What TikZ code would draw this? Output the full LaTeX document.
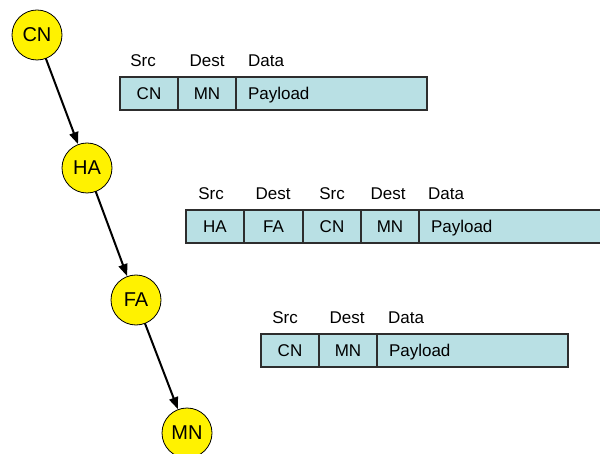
\documentclass[tikz,border=0pt]{standalone}
\usepackage{fontspec}
\setmainfont{Liberation Sans}
\usetikzlibrary{arrows.meta}
\definecolor{cellfill}{RGB}{185,224,228}
\definecolor{cellline}{RGB}{45,45,45}
\tikzset{
  host/.style={circle, draw=black, line width=0.8bp, fill=yellow, minimum size=50bp, inner sep=0pt, outer sep=0pt, font=\fontsize{20bp}{24bp}\selectfont},
  cell/.style={rectangle, draw=cellline, line width=1.2bp, fill=cellfill, minimum height=33bp, inner sep=0pt, outer sep=0pt, anchor=north west, text height=12.2bp, text depth=0pt, font=\fontsize{17bp}{20bp}\selectfont},
  wide/.style={cell, align=left, text width=#1, inner xsep=12bp},
  lbl/.style={inner sep=0pt, font=\fontsize{17bp}{20bp}\selectfont},
  hop/.style={line width=2bp, -{Triangle[length=12bp,width=9bp]}, shorten >=0.5bp}
}
\begin{document}
\begin{tikzpicture}[x=1bp, y=-1bp]
\clip (0,0) rectangle (600,454);
% hosts
\node[host] (cn) at (37,35) {CN};
\node[host] (ha) at (87,168) {HA};
\node[host] (fa) at (136,300) {FA};
\node[host] (mn) at (187,433) {MN};
\draw[hop] (cn) -- (ha);
\draw[hop] (ha) -- (fa);
\draw[hop] (fa) -- (mn);

% packet 1
\node[lbl] (p1l1) at (143,61) {Src};
\node[lbl] (p1l2) at (207,61) {Dest};
\node[lbl, anchor=west] (p1l3) at (248,61) {Data};
\node[cell, minimum width=58bp] (p1c1) at (120,77) {CN};
\node[cell, minimum width=58bp] (p1c2) at (178,77) {MN};
\node[wide=167bp] (p1c3) at (236,77) {Payload};

% packet 2
\node[lbl] (p2l1) at (211,194) {Src};
\node[lbl] (p2l2) at (273,194) {Dest};
\node[lbl] (p2l3) at (332,194) {Src};
\node[lbl] (p2l4) at (388,194) {Dest};
\node[lbl, anchor=west] (p2l5) at (428,194) {Data};
\node[cell, minimum width=58bp] (p2c1) at (186,210) {HA};
\node[cell, minimum width=59bp] (p2c2) at (244,210) {FA};
\node[cell, minimum width=58bp] (p2c3) at (303,210) {CN};
\node[cell, minimum width=58bp] (p2c4) at (361,210) {MN};
\node[wide=170bp] (p2c5) at (419,210) {Payload};

% packet 3
\node[lbl] (p3l1) at (285,318) {Src};
\node[lbl] (p3l2) at (347,318) {Dest};
\node[lbl, anchor=west] (p3l3) at (388,318) {Data};
\node[cell, minimum width=58bp] (p3c1) at (261,334) {CN};
\node[cell, minimum width=58bp] (p3c2) at (319,334) {MN};
\node[wide=167bp] (p3c3) at (377,334) {Payload};
\end{tikzpicture}
\end{document}
